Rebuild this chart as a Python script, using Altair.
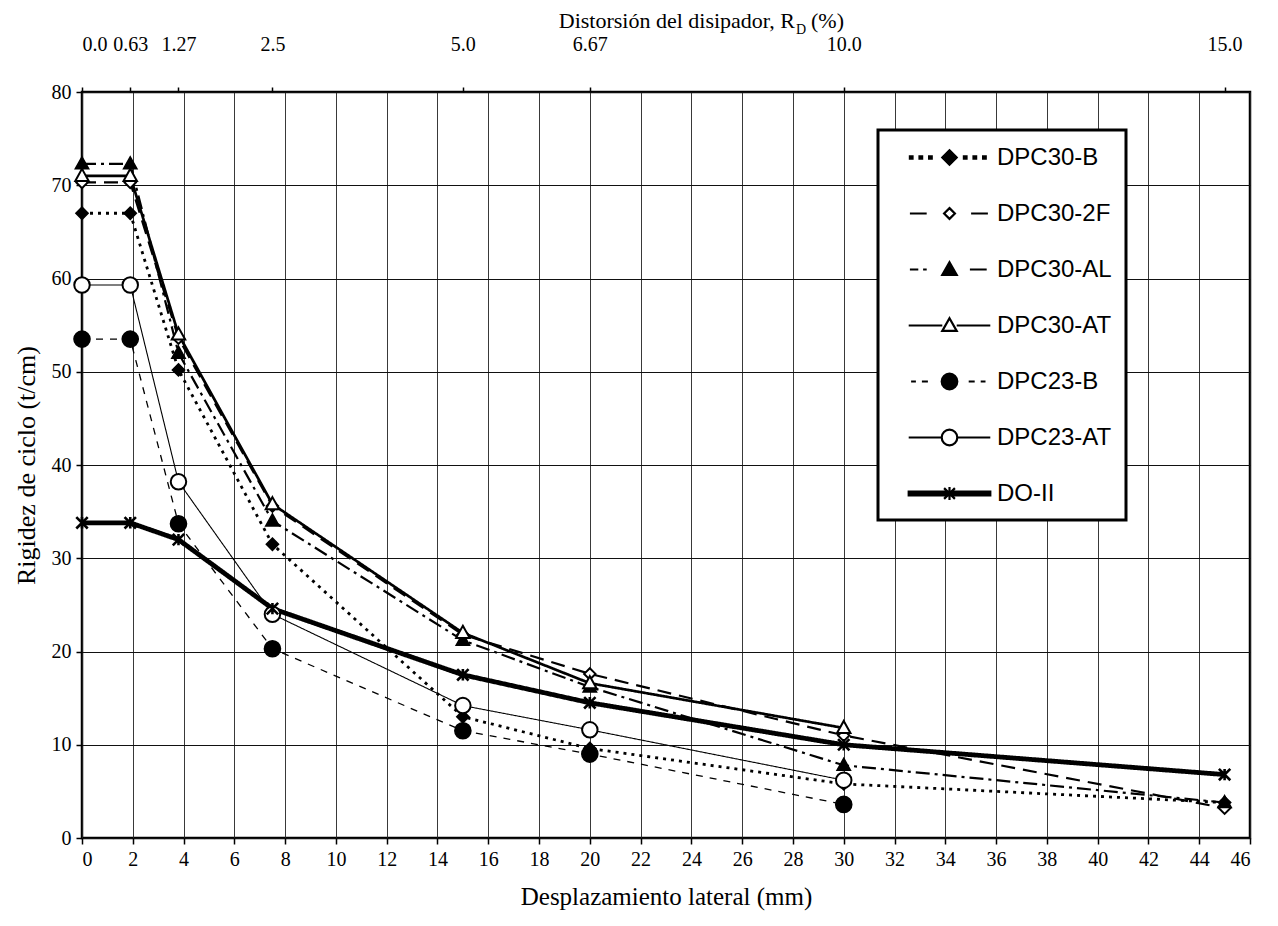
import altair as alt
import pandas as pd

# ---------------- data ----------------
series = ["DPC30-B", "DPC30-2F", "DPC30-AL", "DPC30-AT", "DPC23-B", "DPC23-AT", "DO-II"]
x_mm = [0, 1.9, 3.8, 7.5, 15, 20, 30, 45]

dpc30_b = [67.0, 67.0, 50.2, 31.5, 13.0, 9.6, 5.8, 3.8]
dpc30_2f = [70.3, 70.3, 53.6, 35.6, 21.8, 17.6, 11.0, 3.2]
dpc30_al = [72.3, 72.3, 52.0, 34.0, 21.2, 16.2, 7.8, 3.8]
dpc30_at = [71.0, 71.0, 54.0, 35.8, 22.0, 16.6, 11.8, None]
dpc23_b = [53.5, 53.5, 33.7, 20.3, 11.5, 9.0, 3.6, None]
dpc23_at = [59.3, 59.3, 38.2, 24.0, 14.2, 11.6, 6.2, None]
do_ii = [33.8, 33.8, 32.0, 24.6, 17.5, 14.5, 10.0, 6.8]

x_ticks = list(range(0, 47, 2))
y_ticks = list(range(0, 81, 10))
top_vals = [0, 1.9, 3.8, 7.5, 15, 20, 30, 45]
top_labels = ["0.0", "0.63", "1.27", "2.5", "5.0", "6.67", "10.0", "15.0"]

x_title = "Desplazamiento lateral (mm)"
y_title = "Rigidez de ciclo (t/cm)"
top_title_main = "Distorsión del disipador, R"
top_title_sub = "D"
top_title_end = "(%)"

rows = []
for name, vals in zip(series, [dpc30_b, dpc30_2f, dpc30_al, dpc30_at, dpc23_b, dpc23_at, do_ii]):
    for xv, yv in zip(x_mm, vals):
        if yv is not None:
            rows.append({"series": name, "x": xv, "y": yv})
df = pd.DataFrame(rows)

# ---------------- styles ----------------
SERIF = "Liberation Serif"
SANS = "Liberation Sans"

dash_range = [[3, 5], [14, 8], [14, 5, 3, 5], [1, 0], [7, 7], [1, 0], [1, 0]]
line_w = [2.8, 2.2, 2.2, 2.7, 1.3, 1.1, 4.8]

DIAMOND = "M0,-1L1,0L0,1L-1,0Z"
TRIANGLE = "M0,-1.05L1,0.75L-1,0.75Z"
XSTAR = "M-1,-1L1,1M1,-1L-1,1M0,-1L0,1"
pt_paths = [DIAMOND, DIAMOND, TRIANGLE, TRIANGLE, "circle", "circle", XSTAR]
pt_fill = ["black", "white", "black", "white", "black", "white", "black"]
pt_size = [150, 130, 180, 180, 260, 240, 130]
pt_sw = [1.5, 2.0, 1.5, 2.0, 1.5, 2.0, 2.6]


def dots(x0, x1, step, w, h):
    s = ""
    x = x0
    while x + w <= x1 + 1e-9:
        s += "M%.2f,%.2fL%.2f,%.2fL%.2f,%.2fL%.2f,%.2fZ" % (x, -h, x + w, -h, x + w, h, x, h)
        x += step
    return s


CIRC = "M0.65,0A0.65,0.65,0,1,1,-0.65,0A0.65,0.65,0,1,1,0.65,0Z"
DIA_L = "M0,-0.6L0.6,0L0,0.6L-0.6,0Z"
DIA_S = "M0,-0.45L0.45,0L0,0.45L-0.45,0Z"
TRI_L = "M0,-0.6L0.6,0.45L-0.6,0.45Z"
STAR_L = "M-0.45,-0.45L0.45,0.45M0.45,-0.45L-0.45,0.45M0,-0.55L0,0.55"
leg_paths = [
    dots(-3.3, -1.1, 0.8, 0.22, 0.09) + dots(1.2, 3.4, 0.8, 0.22, 0.09) + DIA_L,
    "M-3.3,0L-1.9,0M1.8,0L3.2,0" + DIA_S,
    "M-3.3,0L-2.6,0M-2.2,0L-1.9,0M1.7,0L3.1,0" + TRI_L,
    "M-3.4,0L-0.6,0M0.6,0L3.4,0" + TRI_L,
    "M-3.2,0L-2.8,0M-2.3,0L-1.8,0M1.6,0L2.1,0M2.6,0L3.0,0" + CIRC,
    "M-3.4,0L-0.65,0M0.65,0L3.4,0" + CIRC,
    "M-3.4,-0.16L3.4,-0.16L3.4,0.16L-3.4,0.16Z" + STAR_L,
]

x_scale = alt.Scale(domain=[0, 46], nice=False, zero=False)
y_scale = alt.Scale(domain=[0, 80], nice=False)

y_enc = alt.Y(
    "y:Q",
    scale=y_scale,
    axis=alt.Axis(
        values=y_ticks, title=y_title, grid=True, gridWidth=1.2, gridColor="#111",
        tickSize=6, labelPadding=5, titlePadding=12, titleFontSize=26, format="d",
    ),
)

bottom_axis = alt.Axis(
    orient="bottom", values=x_ticks, title=x_title, grid=True,
    gridWidth=0.9, gridColor="#222", tickSize=6, labelPadding=5,
    titlePadding=15, titleFontSize=25, format="d",
)
label_expr = "[" + ",".join("'%s'" % s for s in top_labels) + "][indexof([" + ",".join(str(v) for v in top_vals) + "], datum.value)]"
top_axis = alt.Axis(
    orient="top", values=top_vals, labelExpr=label_expr, title=None,
    grid=False, tickSize=5, labelPadding=33,
)

base = alt.Chart(df)

line_layers = []
point_layers = []
for i, s in enumerate(series):
    line_layers.append(
        base.transform_filter(alt.datum.series == s)
        .mark_line(color="black", strokeDash=dash_range[i], strokeWidth=line_w[i])
        .encode(
            x=alt.X("x:Q", scale=x_scale, axis=bottom_axis if i == 0 else None),
            y=y_enc,
        )
    )
    point_layers.append(
        base.transform_filter(alt.datum.series == s)
        .mark_point(shape=pt_paths[i], filled=True, fill=pt_fill[i], stroke="black",
                    strokeWidth=pt_sw[i], size=pt_size[i], opacity=1)
        .encode(
            x=alt.X("x:Q", scale=x_scale, axis=top_axis if i == 0 else None),
            y=y_enc,
        )
    )

L = alt.Legend(
    title=None, orient="none", legendX=796, legendY=38, padding=14, rowPadding=30,
    symbolOffset=44, labelOffset=34, labelFont=SANS, labelFontSize=24, labelColor="black",
    strokeColor="black", fillColor="white", symbolSize=576, symbolStrokeWidth=2.2,
    labelLimit=400,
)

legend_layer = base.transform_filter("false").mark_point(filled=True, size=576, opacity=1).encode(
    x=alt.X("x:Q", scale=x_scale, axis=None),
    y=y_enc,
    shape=alt.Shape("series:N", scale=alt.Scale(domain=series, range=leg_paths), legend=L),
    fill=alt.Fill("series:N", scale=alt.Scale(domain=series, range=pt_fill), legend=L),
    stroke=alt.Stroke("series:N", scale=alt.Scale(domain=series, range=["black"] * len(series)), legend=L),
)

title_df = pd.DataFrame({"a": [top_title_main], "b": [top_title_sub], "c": [top_title_end]})
t1 = alt.Chart(title_df).mark_text(align="right", baseline="alphabetic", font=SERIF, fontSize=22, color="black").encode(
    text="a:N", x=alt.value(713), y=alt.value(-64))
t2 = alt.Chart(title_df).mark_text(align="left", baseline="alphabetic", font=SERIF, fontSize=14, color="black").encode(
    text="b:N", x=alt.value(714), y=alt.value(-58))
t3 = alt.Chart(title_df).mark_text(align="left", baseline="alphabetic", font=SERIF, fontSize=22, color="black").encode(
    text="c:N", x=alt.value(729), y=alt.value(-64))

chart = (
    alt.layer(*line_layers, *point_layers, legend_layer, t1, t2, t3)
    .resolve_axis(x="independent")
    .properties(
        width=1168, height=746,
        autosize=alt.AutoSizeParams(type="none"),
        padding={"left": 74, "top": 84, "right": 20, "bottom": 80},
        background="white",
    )
    .configure_view(stroke="black", strokeWidth=2.5)
    .configure_axis(
        domain=False, tickColor="black", tickWidth=1.5, labelFont=SERIF, labelFontSize=20,
        labelColor="black", titleFont=SERIF, titleFontSize=22, titleFontWeight="normal",
        titleColor="black",
    )
    .configure_legend(strokeWidth=3)
)

chart.save("out.html", embed_options={"renderer": "svg", "actions": False})
